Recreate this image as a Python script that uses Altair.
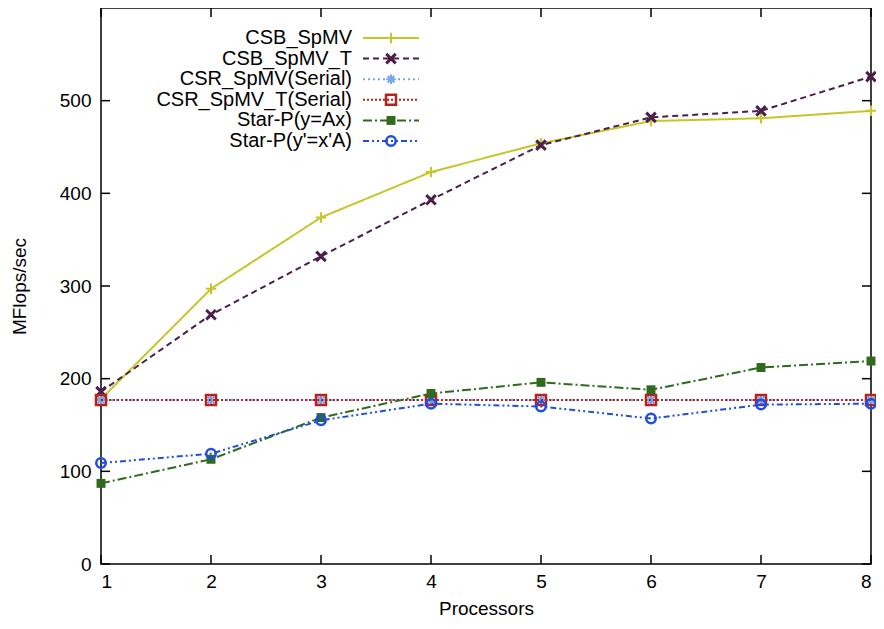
import altair as alt
import pandas as pd

# ---------------- data ----------------
processors = [1, 2, 3, 4, 5, 6, 7, 8]
series_names = [
    "CSB_SpMV",
    "CSB_SpMV_T",
    "CSR_SpMV(Serial)",
    "CSR_SpMV_T(Serial)",
    "Star-P(y=Ax)",
    "Star-P(y'=x'A)",
]
csb_spmv = [178, 297, 374, 423, 454, 478, 481, 489]
csb_spmv_t = [186, 269, 332, 393, 452, 482, 489, 526]
csr_spmv_serial = [177, 177, 177, 177, 177, 177, 177, 177]
csr_spmv_t_serial = [177, 177, 177, 177, 177, 177, 177, 177]
starp_ax = [87, 113, 158, 184, 196, 188, 212, 219]
starp_xa = [109, 119, 155, 173, 170, 157, 172, 173]
series_values = [csb_spmv, csb_spmv_t, csr_spmv_serial, csr_spmv_t_serial, starp_ax, starp_xa]

y_tick_values = [0, 100, 200, 300, 400, 500]

# ---------------- styles ----------------
colors = ["#c6c62a", "#4b1f47", "#78a6ee", "#b8221e", "#2f6a1f", "#1f4fdc"]
dashes = [[1, 0], [6, 4], [2, 3], [2, 2], [9, 3, 2, 3], [6, 3, 2, 3, 2, 3]]
plus_path = "M-1,0H1M0,-1V1"
x_path = "M-1,-1L1,1M-1,1L1,-1"
star_path = "M-1,0H1M0,-1V1M-0.7,-0.7L0.7,0.7M-0.7,0.7L0.7,-0.7"
shapes = [plus_path, x_path, star_path, "square", "square", "circle"]
sizes = [110, 90, 90, 100, 80, 90]
filled = [False, False, False, False, True, False]
mstroke = [2, 3, 2, 2.5, 1, 2.5]

W, H = 770, 556
FONT = "Liberation Sans"

xscale = alt.Scale(domain=[1, 8], nice=False, zero=False)
yscale = alt.Scale(domain=[0, 600], nice=False)
xaxis = alt.Axis(values=processors, format="d", title="Processors",
                 labelPadding=8, titlePadding=8)
yaxis = alt.Axis(values=y_tick_values, format="d", title="MFlops/sec",
                 labelPadding=10, titlePadding=30)

X = alt.X("Processors:Q", scale=xscale, axis=xaxis)
Y = alt.Y("MFlops:Q", scale=yscale, axis=yaxis)

main_layers = []
legend_layers = []
legend_scale = alt.Scale(domain=[0, 5], range=[30, 133])

for i, name in enumerate(series_names):
    df = pd.DataFrame({"Processors": processors, "MFlops": series_values[i]})
    base = alt.Chart(df).encode(x=X, y=Y)
    line = base.mark_line(color=colors[i], strokeDash=dashes[i], strokeWidth=2)
    if filled[i]:
        pts = base.mark_point(shape=shapes[i], size=sizes[i], filled=True,
                              color=colors[i], opacity=1)
    else:
        pts = base.mark_point(shape=shapes[i], size=sizes[i], filled=False,
                              color=colors[i], strokeWidth=mstroke[i], opacity=1)
    main_layers += [line, pts]

    ldf = pd.DataFrame({"row": [i], "name": [name]})
    lbase = alt.Chart(ldf).encode(y=alt.Y("row:Q", scale=legend_scale, axis=None))
    lline = lbase.mark_rule(color=colors[i], strokeDash=dashes[i], strokeWidth=2).encode(
        x=alt.value(262), x2=alt.value(318))
    if filled[i]:
        lpt = lbase.mark_point(shape=shapes[i], size=sizes[i], filled=True,
                               color=colors[i], opacity=1).encode(x=alt.value(290))
    else:
        lpt = lbase.mark_point(shape=shapes[i], size=sizes[i], filled=False,
                               color=colors[i], strokeWidth=mstroke[i], opacity=1).encode(x=alt.value(290))
    ltxt = lbase.mark_text(align="right", baseline="middle", fontSize=20, font=FONT,
                           color="black").encode(x=alt.value(251), text="name:N")
    legend_layers += [lline, lpt, ltxt]

# inward ticks (gnuplot style)
xt = pd.DataFrame({"Processors": processors})
yt = pd.DataFrame({"MFlops": y_tick_values})
tick_style = dict(color="black", strokeWidth=1.5)
bottom_ticks = alt.Chart(xt).mark_rule(**tick_style).encode(x=X, y=alt.value(H), y2=alt.value(H - 9))
top_ticks = alt.Chart(xt).mark_rule(**tick_style).encode(x=X, y=alt.value(0), y2=alt.value(9))
left_ticks = alt.Chart(yt).mark_rule(**tick_style).encode(y=Y, x=alt.value(0), x2=alt.value(9))
right_ticks = alt.Chart(yt).mark_rule(**tick_style).encode(y=Y, x=alt.value(W - 9), x2=alt.value(W))

main = alt.layer(bottom_ticks, top_ticks, left_ticks, right_ticks, *main_layers)
legend = alt.layer(*legend_layers)

chart = alt.layer(main, legend).resolve_scale(y="independent").properties(
    width=W, height=H,
    autosize=alt.AutoSizeParams(type="none"),
    padding={"left": 93, "top": 0, "right": 5, "bottom": 57},
).configure_view(
    stroke="black", strokeWidth=1.5
).configure_axis(
    domain=False, ticks=False, tickSize=0, grid=False,
    labelFont=FONT, labelFontSize=19, labelColor="black",
    titleFont=FONT, titleFontSize=19, titleFontWeight="normal", titleColor="black",
)

chart.save("out.html", embed_options={"renderer": "svg", "actions": False})
